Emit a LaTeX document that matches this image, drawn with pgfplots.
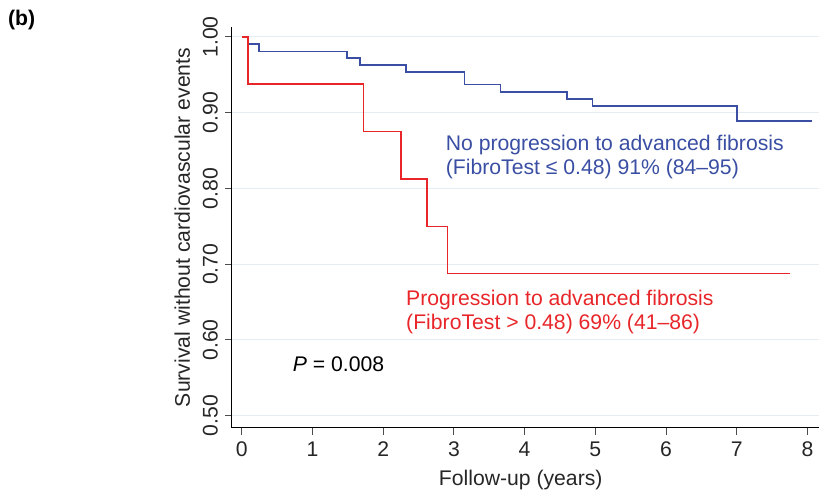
\documentclass[border=0pt]{standalone}
\usepackage{fontspec}
\setmainfont{Liberation Sans}
\usepackage{pgfplots}
\pgfplotsset{compat=1.18}
\definecolor{kmBlue}{HTML}{3A4FA3}
\definecolor{kmRed}{HTML}{E8262A}
\definecolor{gridCol}{HTML}{E6EDF2}

\begin{document}
\begin{tikzpicture}
\begin{axis}[
    scale only axis,
    width=294pt, height=200.5pt,
    xmin=-0.14, xmax=8.17,
    ymin=0.484, ymax=1.013,
    axis x line*=bottom, axis y line*=left,
    axis line style={-, black, line width=0.5pt},
    tick align=outside,
    major tick length=3.5pt,
    tick style={black!70, line width=0.5pt},
    xtick={0,1,...,8},
    ytick={0.5,0.6,0.7,0.8,0.9,1.0},
    yticklabel style={rotate=90, anchor=south,
        /pgf/number format/fixed, /pgf/number format/fixed zerofill,
        /pgf/number format/precision=2},
    /pgf/number format/assume math mode=true,
    ymajorgrids,
    grid style={gridCol, line width=0.5pt},
    font=\fontsize{10.6}{12}\selectfont,
    tick label style={font=\fontsize{10.6}{12}\selectfont, text=black!85},
    xlabel={Follow-up (years)},
    ylabel={Survival without cardiovascular events},
    label style={text=black!85},
    xlabel style={xshift=-2.5pt},
    ylabel style={yshift=-0.5pt},
    clip=false,
]
\addplot[const plot, kmBlue, line width=0.8pt] coordinates {
    (0,1) (0.095,0.991) (0.246,0.981) (1.49,0.972) (1.675,0.963)
    (2.32,0.954) (3.15,0.937) (3.66,0.927) (4.60,0.918) (4.96,0.909)
    (7.0,0.889) (8.07,0.889)
};
\addplot[const plot, kmRed, line width=0.8pt] coordinates {
    (0,1) (0.085,0.9375) (1.72,0.875) (2.25,0.8125) (2.62,0.75)
    (2.91,0.6875) (7.75,0.6875)
};
\node[anchor=base west, align=left, text=kmBlue, inner sep=0pt] at (axis cs:2.88,0.818)
    {No progression to advanced fibrosis\\(FibroTest ≤ 0.48) 91\% (84–95)};
\node[anchor=base west, align=left, text=kmRed, inner sep=0pt] at (axis cs:2.32,0.6135)
    {Progression to advanced fibrosis\\(FibroTest > 0.48) 69\% (41–86)};
\node[anchor=base west, inner sep=0pt] at (axis cs:0.717,0.5585) {\textit{P} = 0.008};
\node[anchor=north west, inner sep=0pt, font=\fontsize{10.6}{12}\selectfont\bfseries]
    at (axis cs:-3.31,1.0356) {(b)};
\path (axis cs:-3.42,0.397) rectangle (axis cs:8.175,1.0488);
\end{axis}
\end{tikzpicture}
\end{document}
